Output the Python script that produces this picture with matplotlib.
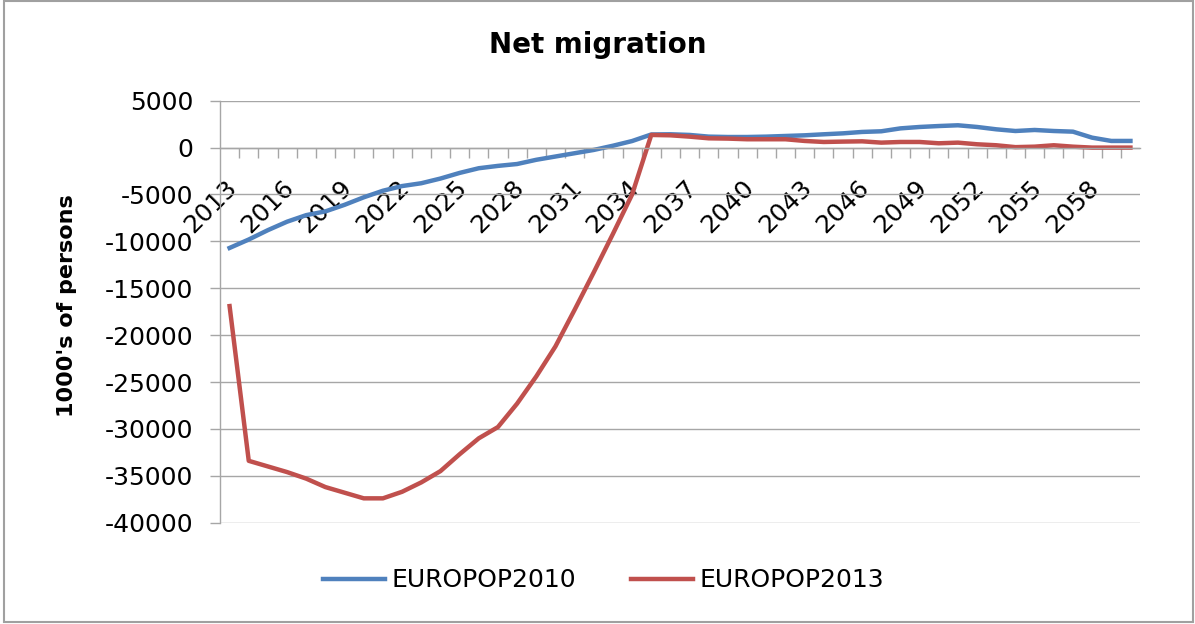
import matplotlib
matplotlib.use("Agg")
import matplotlib.pyplot as plt
from matplotlib.patches import Rectangle
from matplotlib.lines import Line2D
from matplotlib.transforms import ScaledTranslation

plt.rcParams['font.family'] = ['DejaVu Sans']
plt.rcParams['axes.unicode_minus'] = False

# Net migration, thousands of persons, one value per year
years = list(range(2013, 2061))
europop2010 = [-10700, -9800, -8800, -7900, -7200, -6800, -6100, -5300, -4600, -4100,
               -3800, -3300, -2700, -2200, -1950, -1750, -1300, -950, -600, -250,
               200, 700, 1400, 1420, 1350, 1170, 1130, 1130, 1170, 1240,
               1310, 1420, 1520, 1670, 1740, 2050, 2200, 2300, 2380, 2200,
               1950, 1770, 1880, 1770, 1700, 1060, 710, 710]
europop2013 = [-16900, -33400, -34000, -34600, -35300, -36200, -36800, -37400, -37400, -36700,
               -35700, -34500, -32700, -31000, -29800, -27300, -24400, -21200, -17300, -13300,
               -9200, -5000, 1350, 1310, 1170, 990, 960, 890, 890, 890,
               710, 600, 640, 670, 530, 600, 600, 460, 530, 355,
               250, 50, 100, 250, 100, 0, 0, 0]
yticks = list(range(-40000, 5001, 5000))

BLUE = '#4F81BD'
RED = '#C0504D'
GRID = '#A6A6A6'

fig = plt.figure(figsize=(11.95, 6.24), dpi=100)
ax = fig.add_axes([0.1841, 0.1623, 0.7699, 0.6763])

idx = list(range(len(years)))
ax.plot(idx, europop2010, color=BLUE, lw=3.2, label='EUROPOP2010')
ax.plot(idx, europop2013, color=RED, lw=3.2, label='EUROPOP2013')

ax.set_xlim(-0.5, len(years) - 0.5)
ax.set_ylim(-40000, 5000)
ax.set_yticks(yticks)
ax.set_yticklabels([str(v) for v in yticks])
ax.yaxis.grid(True, color=GRID, lw=1.0)
ax.set_axisbelow(True)

# category axis crosses at zero, tick marks between categories
for s in ['top', 'right']:
    ax.spines[s].set_visible(False)
ax.spines['bottom'].set_position(('data', 0))
ax.spines['bottom'].set_color(GRID)
ax.spines['left'].set_color(GRID)
ax.spines['bottom'].set_linewidth(1.0)
ax.spines['left'].set_linewidth(1.0)

ax.set_xticks([i + 0.5 for i in idx[:-1]], minor=True)
ax.set_xticks(idx[::3])
ax.set_xticklabels([str(y) for y in years[::3]])
ax.tick_params(axis='x', which='minor', length=7, color=GRID, width=1.0, direction='out')
ax.tick_params(axis='x', which='major', length=0, pad=20, labelsize=18)
shift = ScaledTranslation(-0.05, 0, fig.dpi_scale_trans)
for lab in ax.get_xticklabels():
    lab.set_rotation(45)
    lab.set_ha('right')
    lab.set_rotation_mode('anchor')
    lab.set_transform(lab.get_transform() + shift)
ax.tick_params(axis='y', length=7, color=GRID, width=1.0, pad=12, labelsize=18)

fig.text(0.056, 0.511, "1000's of persons", rotation=90, ha='center', va='center',
         fontsize=16, fontweight='bold')
fig.text(0.5, 0.928, 'Net migration', ha='center', va='center',
         fontsize=20, fontweight='bold')

handles = [Line2D([], [], color=BLUE, lw=3.2), Line2D([], [], color=RED, lw=3.2)]
fig.legend(handles, ['EUROPOP2010', 'EUROPOP2013'], loc='center',
           bbox_to_anchor=(0.505, 0.07), ncol=2, frameon=False, fontsize=18,
           handlelength=2.5, handletextpad=0.25, columnspacing=2.2)

fig.add_artist(Rectangle((0.003, 0.003), 0.995, 0.995, transform=fig.transFigure,
                         fill=False, edgecolor='#A0A0A0', lw=1.5))

fig.savefig('out.png', dpi=100)
